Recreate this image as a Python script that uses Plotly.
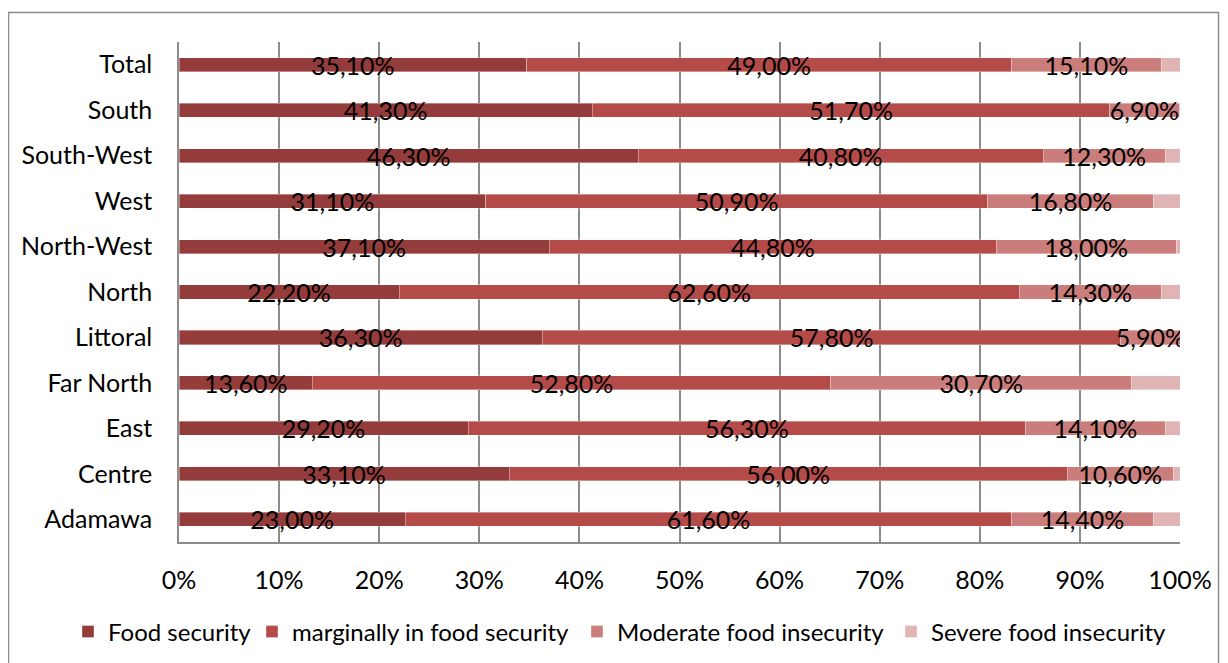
import plotly.graph_objects as go

categories = ["Adamawa", "Centre", "East", "Far North", "Littoral", "North",
              "North-West", "West", "South-West", "South", "Total"]
food_security = [23.0, 33.1, 29.2, 13.6, 36.3, 22.2, 37.1, 31.1, 46.3, 41.3, 35.1]
marginal = [61.6, 56.0, 56.3, 52.8, 57.8, 62.6, 44.8, 50.9, 40.8, 51.7, 49.0]
moderate = [14.4, 10.6, 14.1, 30.7, 5.9, 14.3, 18.0, 16.8, 12.3, 6.9, 15.1]
severe = [2.7, 0.7, 1.5, 4.9, 0.0, 1.9, 0.4, 2.7, 1.5, 0.1, 1.9]
x_ticks = [0, 10, 20, 30, 40, 50, 60, 70, 80, 90, 100]

series = [
    ("Food security", food_security, "#943C3B", True),
    ("marginally in food security", marginal, "#B54B49", True),
    ("Moderate food insecurity", moderate, "#CB7D7B", True),
    ("Severe food insecurity", severe, "#E0B4B4", False),
]
legend_ids = ["legend", "legend2", "legend3", "legend4"]
legend_text_x = [108, 292, 617, 931]  # page x where each legend text starts

FONT = "Lato, 'Liberation Sans', Arial, sans-serif"
FS = 25

fig = go.Figure()
for (name, vals, color, labelled), lid in zip(series, legend_ids):
    txt = [(f"{v:.2f}%".replace(".", ",")) for v in vals] if labelled else None
    fig.add_trace(go.Bar(
        y=categories, x=vals, name=name, orientation="h", legend=lid,
        marker=dict(color=color, line=dict(color="rgba(255,255,255,0.6)", width=0.6)),
        width=0.31,
        text=txt,
        textposition="inside" if labelled else "none",
        insidetextanchor="middle",
        textangle=0,
        constraintext="none",
        textfont=dict(color="black", size=FS, family=FONT),
        hoverinfo="x+y+name",
    ))

W, H = 1220, 655
legends = {}
for lid, tx in zip(legend_ids, legend_text_x):
    legends[lid] = dict(orientation="h", xref="container", x=(tx - 8 - 40) / W,
                        xanchor="left", y=-0.18, yanchor="middle",
                        font=dict(size=24, family=FONT), itemwidth=30,
                        bgcolor="rgba(0,0,0,0)")

# the page body adds an 8px offset; figure is sized/margined to compensate
fig.update_layout(
    barmode="stack",
    barnorm="percent",
    width=W, height=H,
    margin=dict(l=171, r=48, t=34, b=121, autoexpand=False),
    paper_bgcolor="white", plot_bgcolor="white",
    font=dict(family=FONT, size=FS, color="black"),
    uniformtext=dict(minsize=FS, mode="show"),
    showlegend=True,
    xaxis=dict(range=[0, 100], tickvals=x_ticks, ticktext=[f"{t}%" for t in x_ticks],
               tickangle=0,
               showgrid=True, gridcolor="#8C8C8C", gridwidth=1.5,
               showline=True, linecolor="#8C8C8C", linewidth=1.5,
               zeroline=False, ticks="outside", ticklen=15, tickcolor="rgba(0,0,0,0)",
               tickfont=dict(size=FS, family=FONT), fixedrange=True, automargin=False),
    yaxis=dict(categoryorder="array", categoryarray=categories, range=[-0.5, 10.5],
               showgrid=False, showline=True, linecolor="#8C8C8C", linewidth=1.5,
               ticks="outside", ticklen=20, tickcolor="rgba(0,0,0,0)",
               tickfont=dict(size=FS, family=FONT), fixedrange=True, automargin=False),
    shapes=[dict(type="rect", xref="paper", yref="paper",
                 x0=(8.5 - 179) / 1001, x1=(1218.5 - 179) / 1001,
                 y0=(542 - 675) / 500, y1=(542 - 12.5) / 500,
                 line=dict(color="#8C8C8C", width=1.5), fillcolor="rgba(0,0,0,0)",
                 layer="below")],
    **legends,
)

fig.write_html("out.html")
